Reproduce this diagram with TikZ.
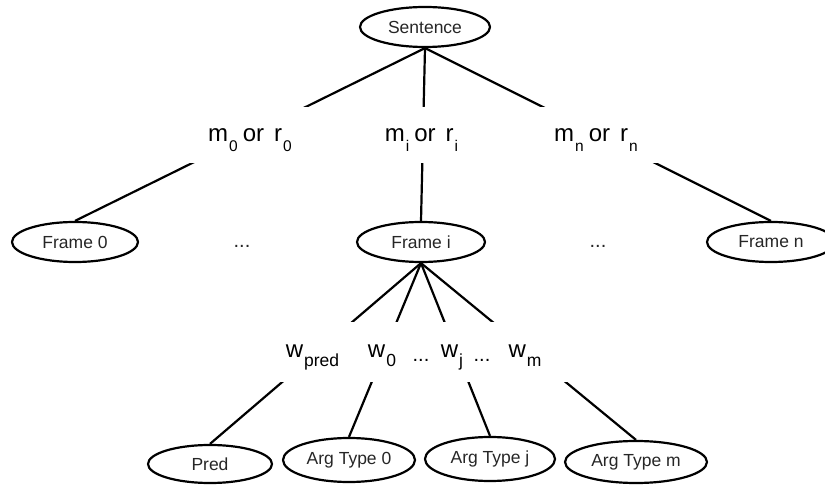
\documentclass[tikz,border=0pt]{standalone}
\usepackage{fontspec}
\setmainfont{Liberation Sans}
\usetikzlibrary{shapes.geometric}

% lowered subscripts used in the edge labels
\newcommand\msub[1]{\hspace{1pt}\raisebox{-10pt}{\fontsize{15.5}{15}\selectfont #1}}
\newcommand\wsub[1]{\hspace{1pt}\raisebox{-9pt}{\fontsize{17.5}{17}\selectfont #1}}

\begin{document}
\begin{tikzpicture}[x=1pt,y=-1pt,
  oval/.style={ellipse, draw, line width=2.2pt, inner sep=0pt,
    minimum height=40pt, text=black!85, font=\fontsize{17.5}{20}\selectfont},
  toplab/.style={fill=white, inner sep=0pt, text height=35pt, text depth=21pt,
    anchor=base, font=\fontsize{24}{26}\selectfont},
  wlab/.style={fill=white, inner sep=0pt, text height=36pt, text depth=24pt,
    anchor=base, font=\fontsize{24}{26}\selectfont},
  dotsl/.style={anchor=base, inner sep=0pt},
  link/.style={line width=2.2pt}]
\clip (0,0) rectangle (825,486);

% tree nodes
\node[oval, minimum width=130pt] (sent) at (425,27) {Sentence};
\node[oval, minimum width=126pt] (f0) at (75,242) {Frame 0};
\node[oval, minimum width=128pt] (fi) at (421,242) {Frame i};
\node[oval, minimum width=128pt] (fn) at (771,242) {Frame n};
\node[oval, minimum width=124pt, minimum height=38pt] (pred) at (210,464) {Pred};
\node[oval, minimum width=132pt, minimum height=44pt] (a0) at (349,460) {Arg Type 0};
\node[oval, minimum width=130pt, minimum height=44pt] (aj) at (490,459) {Arg Type j};
\node[oval, minimum width=142pt, minimum height=42pt] (am) at (636,462) {Arg Type m};

% connectors
\draw[link] (sent.south) -- (f0.north);
\draw[link] (sent.south) -- (fi.north);
\draw[link] (sent.south) -- (fn.north);
\draw[link] (fi.south) -- (pred.north);
\draw[link] (fi.south) -- (a0.north);
\draw[link] (fi.south) -- (aj.north);
\draw[link] (fi.south) -- (am.north);

% edge labels (white boxes break the connectors)
\node[toplab, minimum width=124pt] (l0) at (250,142) {m\msub{0}\hspace{5pt}or\hspace{10pt}r\msub{0}};
\node[toplab, minimum width=84pt] (li) at (421.5,142) {m\msub{i}\hspace{5pt}or\hspace{10pt}r\msub{i}};
\node[toplab, minimum width=124pt] (ln) at (596,142) {m\msub{n}\hspace{5pt}or\hspace{10pt}r\msub{n}};

\node[wlab, minimum width=90pt] (wp) at (312.5,358) {w\wsub{pred}};
\node[wlab, minimum width=36pt] (w0) at (382,358) {w\wsub{0}};
\node[wlab, minimum width=44pt] (wj) at (452,358) {w\wsub{j}};
\node[wlab, minimum width=86pt] (wm) at (525,358) {w\wsub{m}};

% ellipses
\node[dotsl, text=black!85, font=\fontsize{20}{22}\selectfont] (d1) at (242,248) {...};
\node[dotsl, text=black!85, font=\fontsize{20}{22}\selectfont] (d2) at (598,248) {...};
\node[dotsl, font=\fontsize{20}{22}\selectfont] (d3) at (421,362) {...};
\node[dotsl, font=\fontsize{20}{22}\selectfont] (d4) at (482,362) {...};
\end{tikzpicture}
\end{document}
